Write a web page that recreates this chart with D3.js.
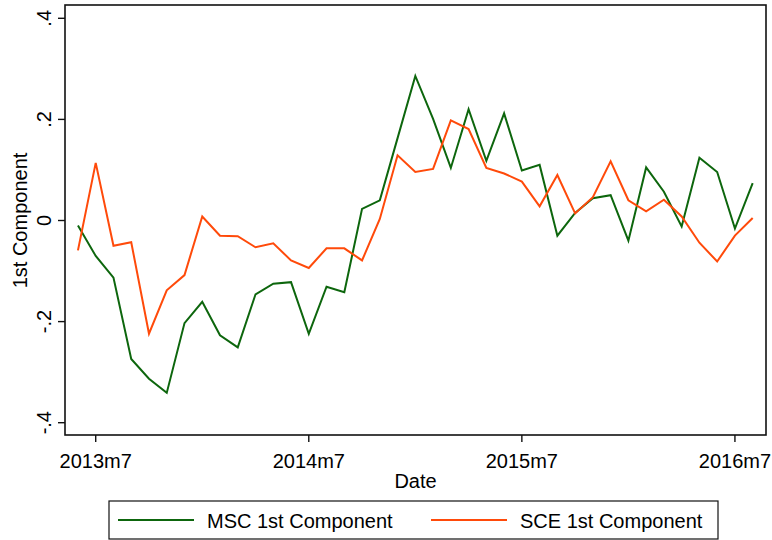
<!DOCTYPE html>
<html lang="en">
    <head>
        <meta charset="utf-8">
        <title>1st Component</title>
        <script type="text/javascript" src="https://cdnjs.cloudflare.com/ajax/libs/d3/7.8.5/d3.min.js"></script>
        <style>
            body { margin: 0; background: #fff; }
            svg text { font-family: "Liberation Sans", Arial, Helvetica, sans-serif; font-size: 20px; fill: #000; }
        </style>
    </head>
    <body>
        <div id="chart"></div>
        <script type="text/javascript">
            // monthly observations, 2013m6 .. 2016m8
            var months = ["2013m6","2013m7","2013m8","2013m9","2013m10","2013m11","2013m12",
                          "2014m1","2014m2","2014m3","2014m4","2014m5","2014m6","2014m7","2014m8","2014m9","2014m10","2014m11","2014m12",
                          "2015m1","2015m2","2015m3","2015m4","2015m5","2015m6","2015m7","2015m8","2015m9","2015m10","2015m11","2015m12",
                          "2016m1","2016m2","2016m3","2016m4","2016m5","2016m6","2016m7","2016m8"];
            var msc = [-0.010, -0.070, -0.113, -0.274, -0.313, -0.341, -0.203,
                       -0.161, -0.227, -0.251, -0.146, -0.125, -0.122, -0.224, -0.131, -0.142, 0.023, 0.040, 0.163,
                       0.286, 0.201, 0.104, 0.220, 0.118, 0.212, 0.099, 0.110, -0.030, 0.015, 0.044, 0.050,
                       -0.040, 0.105, 0.057, -0.012, 0.124, 0.096, -0.016, 0.074];
            var sce = [-0.059, 0.114, -0.050, -0.043, -0.224, -0.138, -0.108,
                       0.008, -0.030, -0.031, -0.053, -0.045, -0.079, -0.094, -0.055, -0.055, -0.079, 0.003, 0.129,
                       0.096, 0.102, 0.198, 0.181, 0.104, 0.093, 0.077, 0.028, 0.090, 0.014, 0.046, 0.117,
                       0.040, 0.018, 0.041, 0.008, -0.044, -0.081, -0.030, 0.005];
            var seriesNames = ["MSC 1st Component", "SCE 1st Component"];
            var xTickLabels = ["2013m7", "2014m7", "2015m7", "2016m7"];
            var yTickValues = [0.4, 0.2, 0, -0.2, -0.4];
            var yTickLabels = [".4", ".2", "0", "-.2", "-.4"];

            var width = 772, height = 540;
            var box = {left: 65, top: 5, right: 766, bottom: 435};
            var colors = ["#0d660d", "#ff4a0a"];

            var svg = d3.select("#chart").append("svg")
                .attr("width", width)
                .attr("height", height);

            // x works on month index, y on the component value
            var xScale = d3.scaleLinear()
                .domain([-0.73, months.length - 0.25])
                .range([box.left, box.right]);
            var yScale = d3.scaleLinear()
                .domain([-0.4, 0.4])
                .range([422.7, 18.3]);

            // plot frame
            svg.append("rect")
                .attr("x", box.left)
                .attr("y", box.top)
                .attr("width", box.right - box.left)
                .attr("height", box.bottom - box.top)
                .attr("fill", "none")
                .attr("stroke", "#111")
                .attr("stroke-width", 1.6);

            // y axis: ticks + rotated labels
            var yAxis = svg.append("g");
            yAxis.selectAll("line")
                .data(yTickValues)
                .enter()
                .append("line")
                .attr("x1", box.left - 7)
                .attr("x2", box.left)
                .attr("y1", function(d){ return yScale(d); })
                .attr("y2", function(d){ return yScale(d); })
                .attr("stroke", "#111")
                .attr("stroke-width", 1.4);
            yAxis.selectAll("text")
                .data(yTickValues)
                .enter()
                .append("text")
                .attr("text-anchor", "middle")
                .attr("transform", function(d){ return "translate(51," + yScale(d) + ") rotate(-90)"; })
                .text(function(d, i){ return yTickLabels[i]; });
            svg.append("text")
                .attr("text-anchor", "middle")
                .attr("transform", "translate(27," + yScale(0) + ") rotate(-90)")
                .text("1st Component");

            // x axis
            var xTicks = xTickLabels.map(function(l){ return months.indexOf(l); });
            var xAxis = svg.append("g");
            xAxis.selectAll("line")
                .data(xTicks)
                .enter()
                .append("line")
                .attr("x1", function(d){ return xScale(d); })
                .attr("x2", function(d){ return xScale(d); })
                .attr("y1", box.bottom)
                .attr("y2", box.bottom + 7)
                .attr("stroke", "#111")
                .attr("stroke-width", 1.4);
            xAxis.selectAll("text")
                .data(xTicks)
                .enter()
                .append("text")
                .attr("text-anchor", "middle")
                .attr("x", function(d){ return xScale(d); })
                .attr("y", 468)
                .text(function(d){ return months[d]; });
            svg.append("text")
                .attr("text-anchor", "middle")
                .attr("x", (box.left + box.right) / 2)
                .attr("y", 488)
                .text("Date");

            // the two series
            var line = d3.line()
                .x(function(d, i){ return xScale(i); })
                .y(function(d){ return yScale(d); });
            [msc, sce].forEach(function(s, k){
                svg.append("path")
                    .datum(s)
                    .attr("d", line)
                    .attr("fill", "none")
                    .attr("stroke", colors[k])
                    .attr("stroke-width", 2)
                    .attr("stroke-linejoin", "miter");
            });

            // legend
            var legend = svg.append("g");
            legend.append("rect")
                .attr("x", 109)
                .attr("y", 501)
                .attr("width", 609)
                .attr("height", 38)
                .attr("fill", "none")
                .attr("stroke", "#111")
                .attr("stroke-width", 1.2);
            var legendX = [118, 431];
            seriesNames.forEach(function(name, k){
                legend.append("line")
                    .attr("x1", legendX[k])
                    .attr("x2", legendX[k] + 76)
                    .attr("y1", 520)
                    .attr("y2", 520)
                    .attr("stroke", colors[k])
                    .attr("stroke-width", 2);
                legend.append("text")
                    .attr("x", legendX[k] + 89)
                    .attr("y", 528)
                    .text(name);
            });
        </script>
    </body>
</html>
